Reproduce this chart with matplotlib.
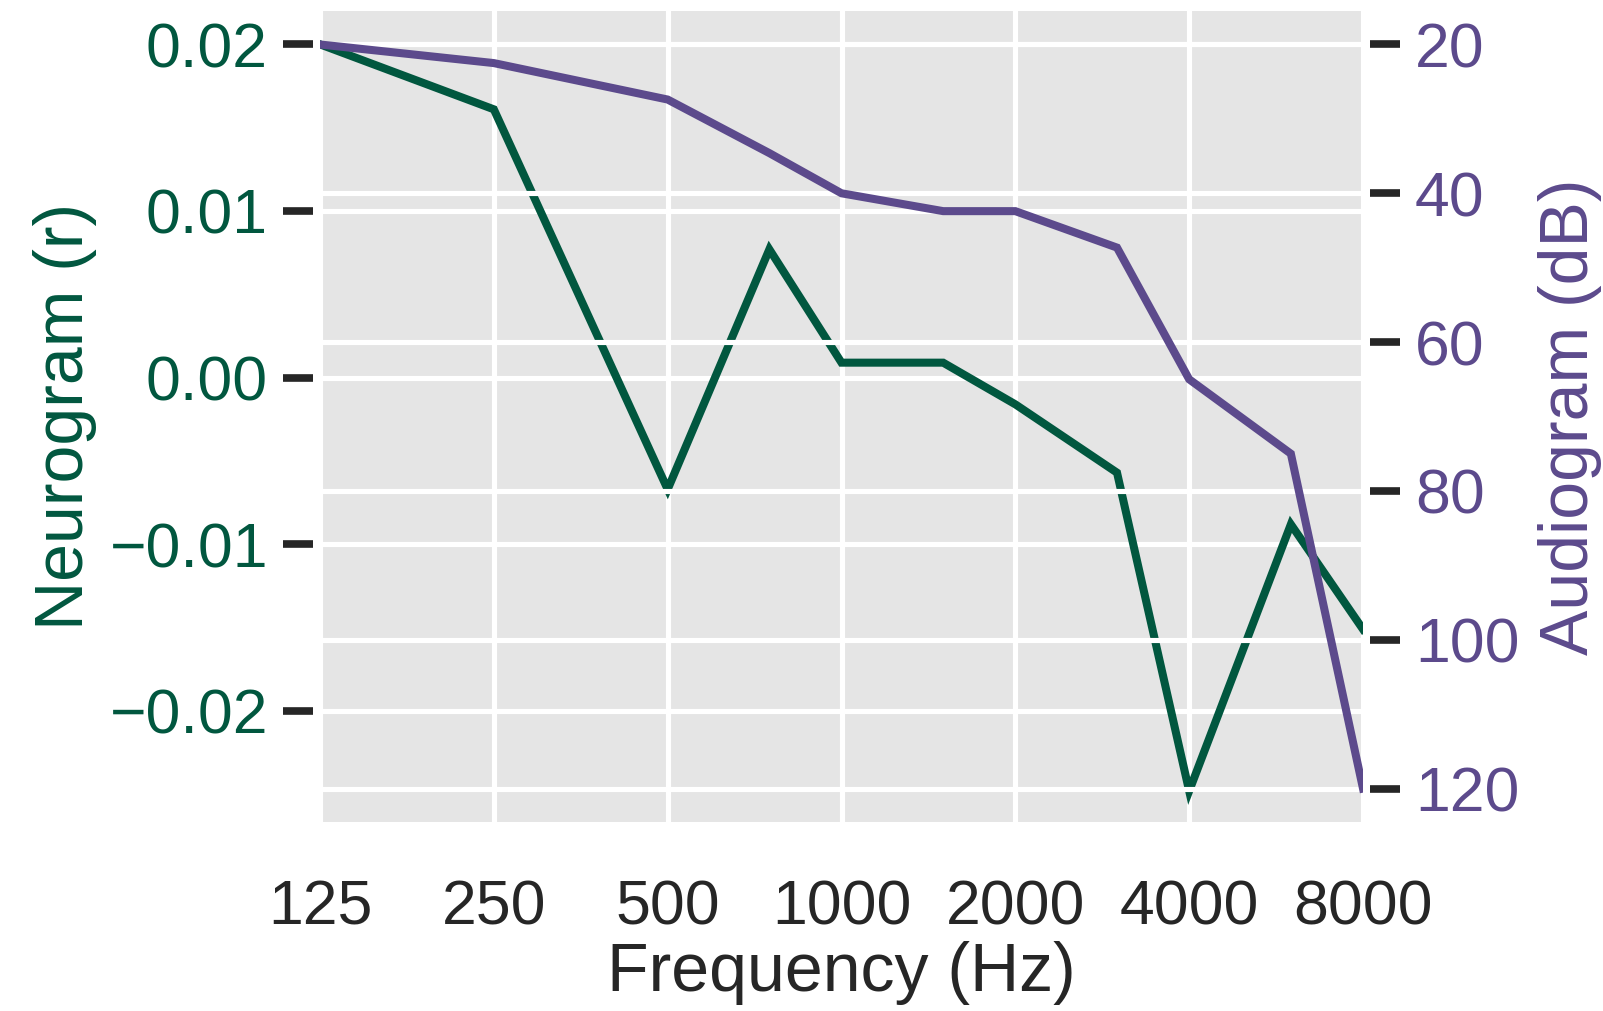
import matplotlib
matplotlib.use("Agg")
import matplotlib.pyplot as plt
from matplotlib.ticker import FixedLocator, NullLocator

plt.rcParams['font.family'] = ['Liberation Sans', 'DejaVu Sans']

# audiometric frequencies (Hz)
freqs = [125, 250, 500, 750, 1000, 1500, 2000, 3000, 4000, 6000, 8000]
# neurogram correlation per frequency
neuro = [0.0200, 0.0161, -0.0067, 0.0077, 0.0009, 0.0009, -0.0016, -0.0057, -0.0248, -0.0088, -0.0151]
# hearing threshold per frequency
audio = [20.0, 22.5, 27.4, 34.6, 40.0, 42.4, 42.4, 47.3, 65.0, 75.0, 120.0]

octave_ticks = [125, 250, 500, 1000, 2000, 4000, 8000]
neuro_ticks = [0.02, 0.01, 0.0, -0.01, -0.02]
audio_ticks = [20, 40, 60, 80, 100, 120]

green = '#01573f'
purple = '#5c4a8c'
bg = '#e5e5e5'
tickc = '#262626'

fig = plt.figure(figsize=(16.03, 10.11), dpi=100)
ax = fig.add_axes([320 / 1603, 1 - 822 / 1011, (1363 - 320) / 1603, (822 - 11) / 1011])
ax.set_facecolor(bg)
ax.set_axisbelow(True)

ax.plot(freqs, neuro, color=green, lw=5.8, solid_joinstyle='miter', zorder=3)
ax.set_xscale('log')
ax.set_xlim(125, 8000)
ax.set_ylim(-0.02666, 0.0220)
ax.xaxis.set_major_locator(FixedLocator(octave_ticks))
ax.xaxis.set_minor_locator(NullLocator())
ax.set_xticklabels([str(f) for f in octave_ticks])
ax.set_yticks(neuro_ticks)
ax.set_yticklabels(['0.02', '0.01', '0.00', '\u22120.01', '\u22120.02'])
ax.grid(True, color='white', lw=3.7)

for s in ax.spines.values():
    s.set_visible(False)
ax.spines['left'].set_position(('outward', 5))

ax.tick_params(axis='x', length=0, pad=41, labelsize=45, labelcolor=tickc)
ax.tick_params(axis='y', length=21.5, width=5.5, color=tickc, pad=11,
               labelsize=45, labelcolor=green)
ax.set_xlabel('Frequency (Hz)', fontsize=49, color=tickc, labelpad=2)
ax.set_ylabel('Neurogram (r)', fontsize=49, color=green, labelpad=9)

# audiogram on a twin axis, dB increasing downward
ax2 = ax.twinx()
ax2.plot(freqs, audio, color=purple, lw=5.8, solid_joinstyle='miter', zorder=3)
ax2.set_ylim(124.5, 15.5)
ax2.set_yticks(audio_ticks)
ax2.grid(True, axis='y', color='white', lw=3.7, zorder=1)
ax2.xaxis.grid(False)
for s in ax2.spines.values():
    s.set_visible(False)
ax2.spines['right'].set_position(('outward', 5))
ax2.tick_params(axis='y', length=21.5, width=5.5, color=tickc, pad=11,
                labelsize=45, labelcolor=purple)
ax2.set_ylabel('Audiogram (dB)', fontsize=49, color=purple, labelpad=13)

fig.savefig('out.png', dpi=100)
